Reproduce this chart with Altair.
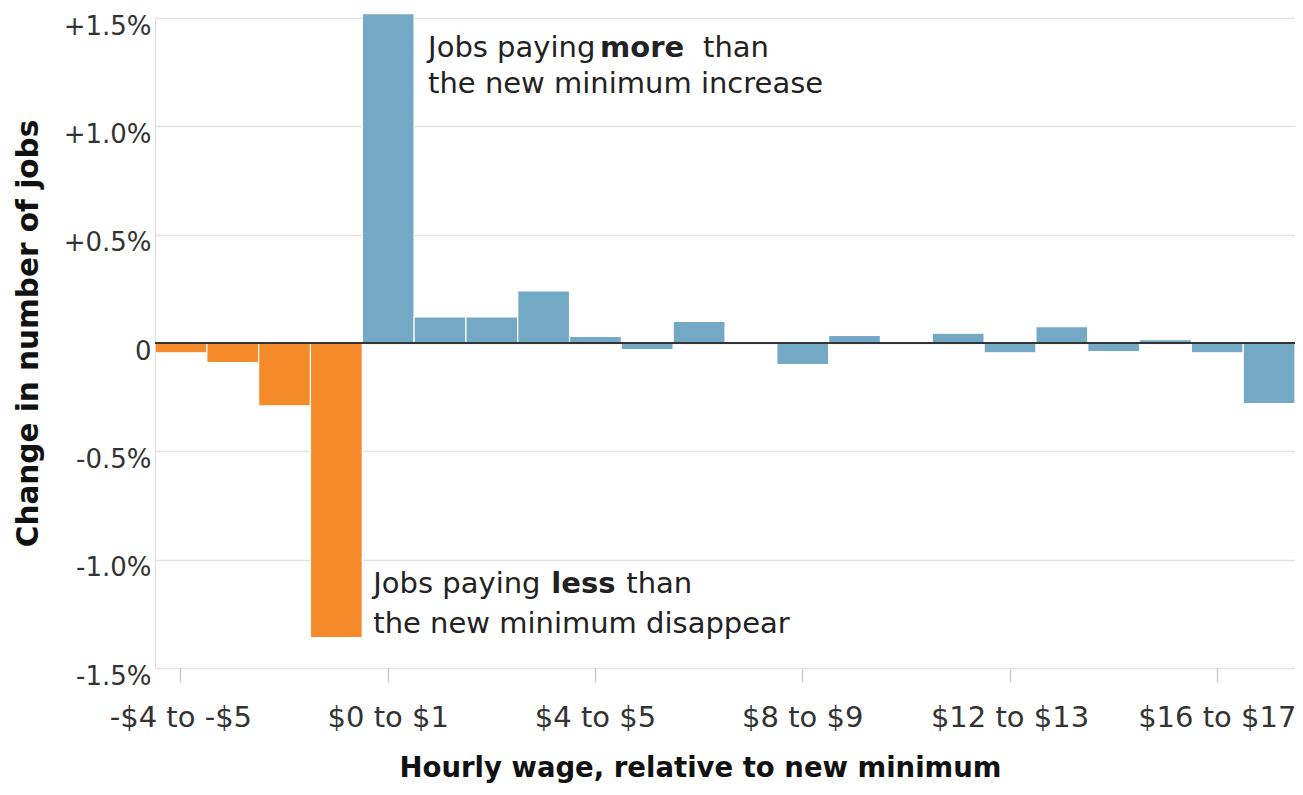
import altair as alt
import pandas as pd

# Wage bins relative to the new minimum (only every 4th is labelled)
categories = ["-$4 to -$5", "-$3 to -$4", "-$2 to -$3", "-$1 to -$2",
              "$0 to $1", "$1 to $2", "$2 to $3", "$3 to $4",
              "$4 to $5", "$5 to $6", "$6 to $7", "$7 to $8",
              "$8 to $9", "$9 to $10", "$10 to $11", "$11 to $12",
              "$12 to $13", "$13 to $14", "$14 to $15", "$15 to $16",
              "$16 to $17", "$17 to $18"]
# Change in number of jobs, percent
changes = [-0.045, -0.09, -0.29, -1.36,
           1.52, 0.12, 0.12, 0.24,
           0.03, -0.03, 0.10, 0.0,
           -0.10, 0.035, 0.0, 0.045,
           -0.045, 0.075, -0.04, 0.015,
           -0.045, -0.28]
groups = ["below"] * 4 + ["above"] * 18
tick_labels = ["-$4 to -$5", "$0 to $1", "$4 to $5", "$8 to $9", "$12 to $13", "$16 to $17"]
y_ticks = [-1.5, -1.0, -0.5, 0, 0.5, 1.0, 1.5]

# Annotation pieces: anchor bin, y value, offset, text, weight
ann_bins = ["$1 to $2", "$1 to $2", "$1 to $2", "$1 to $2",
            "$0 to $1", "$0 to $1", "$0 to $1", "$0 to $1"]
ann_y = [1.36, 1.36, 1.36, 1.195, -1.11, -1.11, -1.11, -1.295]
ann_dx = [14, 186, 289, 14, 11, 189, 264, 11]
ann_text = ["Jobs paying ", "more", "than", "the new minimum increase",
            "Jobs paying ", "less", "than", "the new minimum disappear"]
ann_weight = ["normal", "bold", "normal", "normal", "normal", "bold", "normal", "normal"]

FONT = "DejaVu Sans"
TXT = "#333333"

df = pd.DataFrame({"bin": categories, "change": changes, "group": groups})
ann = pd.DataFrame({"bin": ann_bins, "y": ann_y, "dx": ann_dx,
                    "text": ann_text, "weight": ann_weight})

x_enc = alt.X("bin:N", sort=categories,
              scale=alt.Scale(domain=categories, paddingInner=0, paddingOuter=0),
              axis=alt.Axis(values=tick_labels, labelAngle=0, title="Hourly wage, relative to new minimum",
                            tickSize=14, tickColor="#cccccc", tickWidth=1.5, domain=False,
                            labelPadding=21, labelFontSize=29, labelColor=TXT, labelFont=FONT,
                            titleFont=FONT, titleFontSize=27.5, titleFontWeight="bold", titleColor="#111111",
                            titleX=545, titleY=100, titleBaseline="middle", titleAlign="center"))

y_scale = alt.Scale(domain=[-1.5, 1.5], nice=False)

bars = alt.Chart(df).mark_bar(stroke="white", strokeWidth=1.2).encode(
    x=x_enc,
    y=alt.Y("change:Q", scale=y_scale,
            axis=alt.Axis(values=y_ticks, title="Change in number of jobs",
                          labelExpr="datum.value == 0 ? '0' : (datum.value > 0 ? '+' : '-') + format(abs(datum.value), '.1f') + '%'",
                          grid=True, gridColor="#e3e3e3", gridWidth=1.5, ticks=False, domain=False,
                          labelPadding=4, labelOffset=8, labelFontSize=26, labelColor=TXT, labelFont=FONT,
                          titleFont=FONT, titleFontSize=29.5, titleFontWeight="bold", titleColor="#111111",
                          titleAngle=-90, titleX=-127, titleY=315, titleBaseline="middle", titleAlign="center")),
    color=alt.Color("group:N", scale=alt.Scale(domain=["below", "above"], range=["#f68b2b", "#74a9c6"]),
                    legend=None),
)

zero = alt.Chart(pd.DataFrame({"y": [0]})).mark_rule(color="#333333", strokeWidth=2).encode(
    y=alt.Y("y:Q", scale=y_scale)
)

text_layers = []
for i in range(len(ann_text)):
    row = ann.iloc[[i]]
    text_layers.append(
        alt.Chart(row).mark_text(align="left", baseline="middle", font=FONT, fontSize=29,
                                 color="#222222", fontWeight=ann_weight[i], dx=ann_dx[i]).encode(
            x=alt.X("bin:N", sort=categories, bandPosition=0),
            y=alt.Y("y:Q", scale=y_scale),
            text="text:N",
        )
    )

chart = alt.layer(bars, zero, *text_layers).properties(
    width=1140, height=650,
    autosize=alt.AutoSizeParams(type="none"),
    padding={"left": 147, "top": 10, "right": 0, "bottom": 118},
).configure_view(stroke=None).configure(background="white")

chart.save("out.html", embed_options={"renderer": "svg", "actions": False})
